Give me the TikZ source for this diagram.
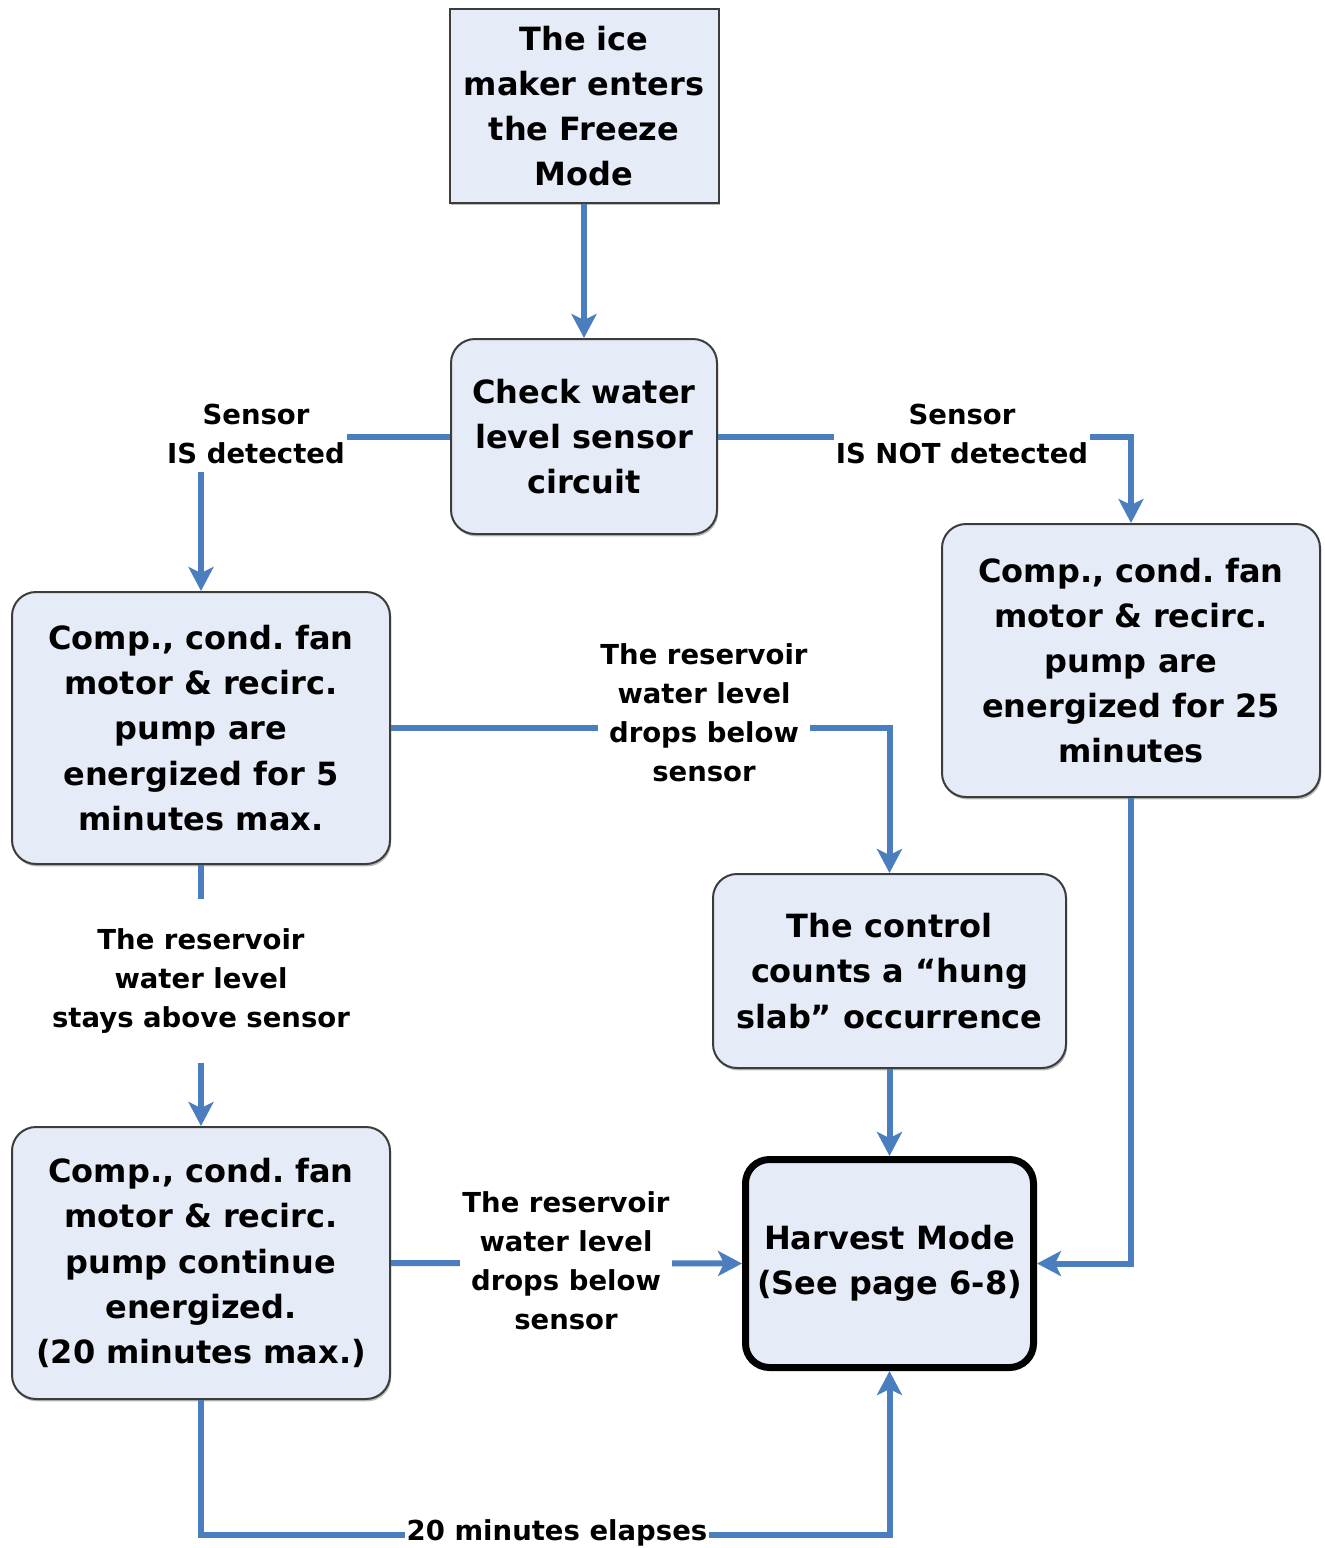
\documentclass[tikz,border=0pt]{standalone}
\usepackage{fontspec}
\setmainfont{DejaVu Sans}
\usetikzlibrary{arrows.meta,shadows}
\definecolor{boxfill}{RGB}{230,236,247}
\definecolor{boxline}{RGB}{60,60,60}
\definecolor{conn}{RGB}{74,126,191}
\frenchspacing
\begin{document}
\begin{tikzpicture}[x=0.5pt,y=-0.5pt,
  box/.style={draw=boxline, line width=1pt, fill=boxfill, align=center,
    font=\fontsize{16}{22.6}\selectfont\bfseries, inner sep=0pt,
    drop shadow={shadow xshift=0.6pt, shadow yshift=-1.2pt, fill=black!55}},
  rbox/.style={box, rounded corners=12pt},
  harvest/.style={draw=black, line width=3.5pt, fill=boxfill, rounded corners=12pt,
    align=center, font=\fontsize{16}{22.6}\selectfont\bfseries, inner sep=0pt},
  lab/.style={fill=white, align=center, inner xsep=1pt, inner ysep=4pt,
    font=\fontsize{13.75}{19.5}\selectfont\bfseries},
  conline/.style={draw=conn, line width=3pt},
  conarrow/.style={conline, -{Stealth[length=12pt,width=12.5pt,inset=3pt]}}
]
\useasboundingbox (0,0) rectangle (1325,1548);

\node[box, minimum width=134.5pt, minimum height=97pt] (A) at (584,106)
  {The ice\\maker enters\\the Freeze\\Mode};
\node[rbox, minimum width=133pt, minimum height=97.5pt] (B) at (584,436.5)
  {Check water\\level sensor\\circuit};
\node[rbox, minimum width=189pt, minimum height=136pt] (C) at (201,728)
  {Comp., cond. fan\\motor \& recirc.\\pump are\\energized for 5\\minutes max.};
\node[rbox, minimum width=189pt, minimum height=136.5pt] (D) at (1131,660.5)
  {Comp., cond. fan\\motor \& recirc.\\pump are\\energized for 25\\minutes};
\node[rbox, minimum width=176.5pt, minimum height=97pt] (E) at (889.5,971)
  {The control\\counts a “hung\\slab” occurrence};
\node[rbox, minimum width=189pt, minimum height=136pt] (F) at (201,1263)
  {Comp., cond. fan\\motor \& recirc.\\pump continue\\energized.\\(20 minutes max.)};
\node[harvest, minimum width=144pt, minimum height=104pt] (H) at (889.5,1263.5)
  {Harvest Mode\\(See page 6-8)};

\coordinate (bot) at (0,1535);

\draw[conarrow] (A.south) -- (B.north);
\draw[conarrow] (B.west) -| (C.north);
\draw[conarrow] (B.east) -| (D.north);
\draw[conarrow] (C.east) -| (E.north);
\draw[conarrow] (C.south) -- (F.north);
\draw[conarrow] (F.east) -- (H.west);
\draw[conarrow] (E.south) -- (H.north);
\draw[conarrow] (D.south) |- (H.east);
\draw[conarrow] (F.south) -- (F.south |- bot) -| (H.south);

\node[lab] (L1) at (256,434) {Sensor\\IS detected};
\node[lab] (L2) at (962,434) {Sensor\\IS NOT detected};
\node[lab] (L3) at (704,713) {The reservoir\\water level\\drops below\\sensor};
\node[lab, inner ysep=15pt] (L4) at (201,981) {The reservoir\\water level\\stays above sensor};
\node[lab, inner ysep=2pt] (L5) at (566,1261) {The reservoir\\water level\\drops below\\sensor};
\node[lab, inner ysep=1pt] (L6) at (557,1533) {20 minutes elapses};
\end{tikzpicture}
\end{document}
